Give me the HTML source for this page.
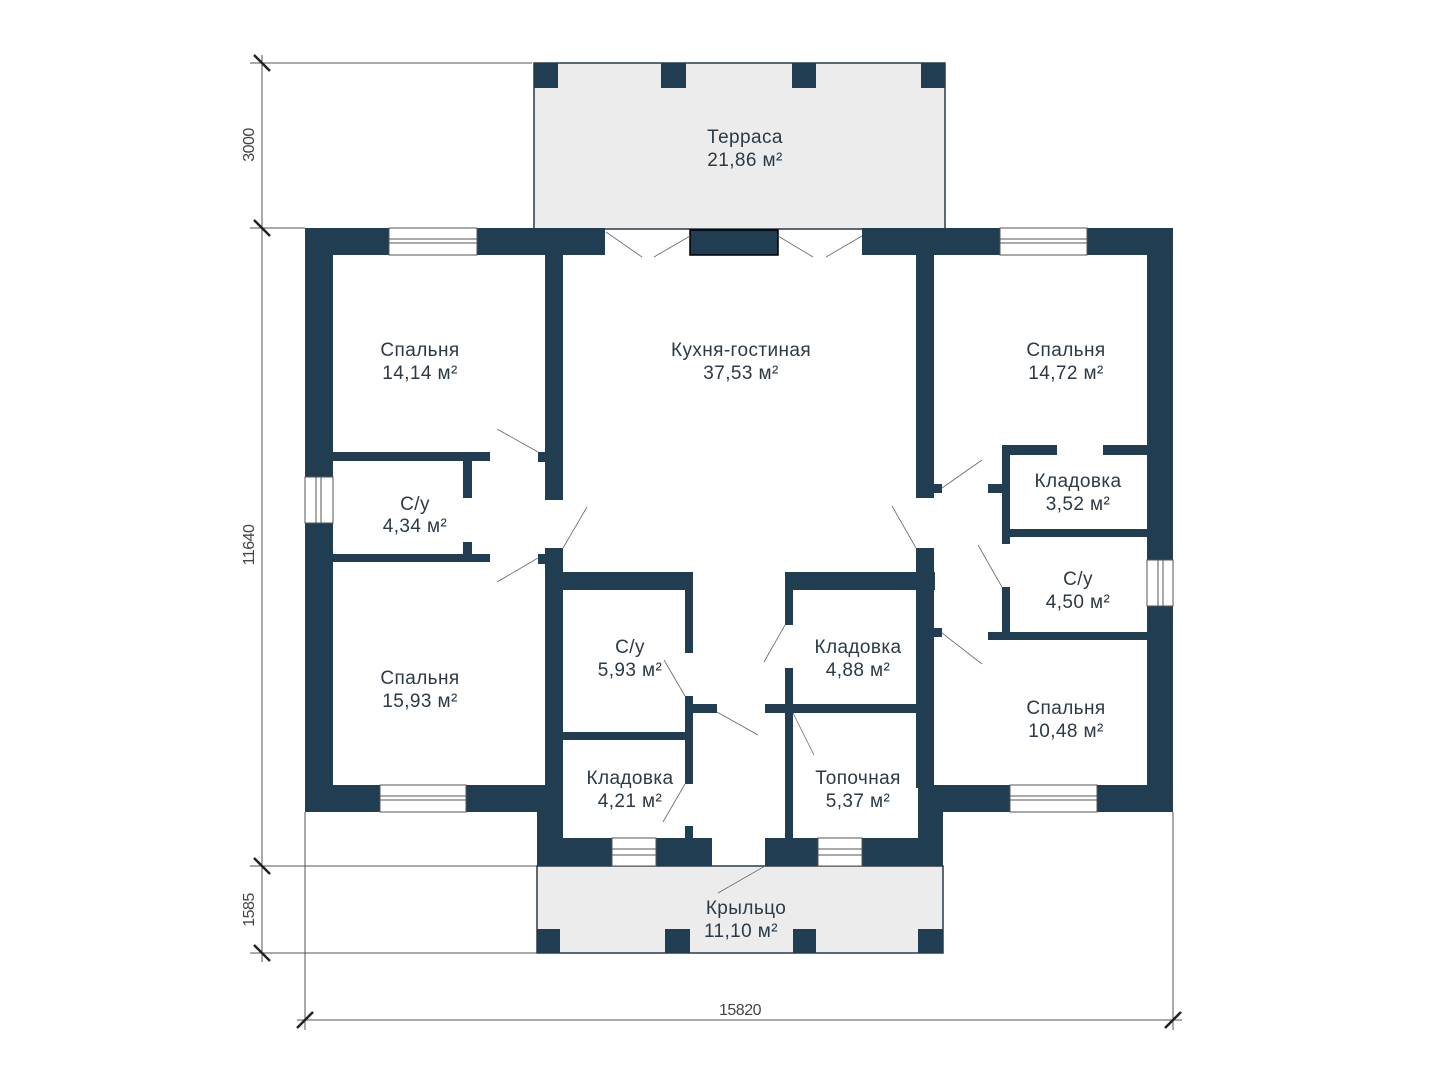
<!DOCTYPE html>
<html><head><meta charset="utf-8"><style>
html,body{margin:0;padding:0;background:#fff;}
svg{display:block}
text{font-family:"Liberation Sans","DejaVu Sans",sans-serif;fill:#2b3a46;font-size:19px;text-anchor:middle;letter-spacing:0.4px}
.d{font-size:16px;fill:#444;letter-spacing:-0.5px}
</style></head><body>
<svg width="1440" height="1080" viewBox="0 0 1440 1080" xmlns="http://www.w3.org/2000/svg">
<g stroke="#555" stroke-width="1" fill="none">
<line x1="262" y1="55" x2="262" y2="962"/>
<line x1="250" y1="63" x2="532" y2="63"/>
<line x1="250" y1="228" x2="305" y2="228"/>
<line x1="250" y1="866" x2="537" y2="866"/>
<line x1="250" y1="953" x2="537" y2="953"/>
<line x1="297" y1="1020" x2="1182" y2="1020"/>
<line x1="305" y1="812" x2="305" y2="1030"/>
<line x1="1173" y1="812" x2="1173" y2="1030"/>
</g>
<g stroke="#222" stroke-width="2.5">
<line x1="254" y1="55" x2="270" y2="71"/>
<line x1="254" y1="220" x2="270" y2="236"/>
<line x1="254" y1="858" x2="270" y2="874"/>
<line x1="254" y1="945" x2="270" y2="961"/>
<line x1="297" y1="1028" x2="313" y2="1012"/>
<line x1="1165" y1="1028" x2="1181" y2="1012"/>
</g>
<text class="d" transform="translate(254,145) rotate(-90)">3000</text>
<text class="d" transform="translate(254,545) rotate(-90)">11640</text>
<text class="d" transform="translate(254,910) rotate(-90)">1585</text>
<text class="d" x="740" y="1015">15820</text>

<rect x="534" y="63" width="411" height="166" fill="#ececec" stroke="#2b3a46" stroke-width="1.5"/>
<rect x="537" y="866" width="406" height="87" fill="#ececec" stroke="#2b3a46" stroke-width="1.5"/>

<g fill="#213d52">
<rect x="534" y="63" width="24" height="25"/><rect x="661" y="63" width="25" height="25"/>
<rect x="792" y="63" width="24" height="25"/><rect x="921" y="63" width="24" height="25"/>
<rect x="537" y="929" width="23" height="24"/><rect x="665" y="929" width="25" height="24"/>
<rect x="793" y="929" width="23" height="24"/><rect x="918" y="929" width="25" height="24"/>
<rect x="305" y="228" width="300" height="27"/>
<rect x="862" y="228" width="311" height="27"/>
<rect x="690" y="230" width="88" height="25" stroke="#000" stroke-width="1.5"/>
<rect x="305" y="228" width="28" height="584"/>
<rect x="1147" y="228" width="26" height="584"/>
<rect x="305" y="785" width="232" height="27"/>
<rect x="537" y="785" width="26" height="81"/>
<rect x="537" y="838" width="175" height="28"/>
<rect x="935" y="785" width="238" height="27"/>
<rect x="918" y="785" width="25" height="81"/>
<rect x="765" y="838" width="178" height="28"/>
<rect x="545" y="255" width="18" height="245"/>
<rect x="538" y="452" width="8" height="10"/>
<rect x="333" y="452" width="157" height="9"/>
<rect x="463" y="461" width="9" height="37"/>
<rect x="333" y="554" width="157" height="8"/>
<rect x="463" y="542" width="9" height="12"/>
<rect x="545" y="548" width="18" height="240"/>
<rect x="538" y="554" width="8" height="10"/>
<rect x="545" y="572" width="148" height="18"/>
<rect x="685" y="590" width="8" height="63"/>
<rect x="563" y="732" width="127" height="8"/>
<rect x="685" y="696" width="8" height="88"/>
<rect x="693" y="704" width="24" height="9"/>
<rect x="685" y="826" width="8" height="12"/>
<rect x="785" y="572" width="150" height="18"/>
<rect x="785" y="590" width="8" height="35"/>
<rect x="785" y="668" width="8" height="170"/>
<rect x="765" y="704" width="152" height="9"/>
<rect x="916" y="255" width="18" height="243"/>
<rect x="934" y="484" width="8" height="9"/>
<rect x="916" y="548" width="18" height="240"/>
<rect x="934" y="628" width="8" height="9"/>
<rect x="1002" y="445" width="55" height="10"/>
<rect x="1103" y="445" width="44" height="10"/>
<rect x="1002" y="445" width="8" height="99"/>
<rect x="988" y="484" width="14" height="9"/>
<rect x="1010" y="529" width="137" height="8"/>
<rect x="1002" y="587" width="8" height="45"/>
<rect x="988" y="632" width="159" height="8"/>
</g>

<g fill="#fff" stroke="#555" stroke-width="1">
<rect x="389" y="228" width="88" height="27"/>
<rect x="1000" y="228" width="87" height="27"/>
<rect x="380" y="785" width="86" height="27"/>
<rect x="1010" y="785" width="87" height="27"/>
<rect x="612" y="838" width="44" height="28"/>
<rect x="818" y="838" width="44" height="28"/>
<rect x="305" y="477" width="28" height="46"/>
<rect x="1147" y="560" width="26" height="46"/>
</g>
<g stroke="#555" stroke-width="1">
<line x1="389" y1="239" x2="477" y2="239"/><line x1="389" y1="243" x2="477" y2="243"/>
<line x1="1000" y1="239" x2="1087" y2="239"/><line x1="1000" y1="243" x2="1087" y2="243"/>
<line x1="380" y1="796" x2="466" y2="796"/><line x1="380" y1="800" x2="466" y2="800"/>
<line x1="1010" y1="796" x2="1097" y2="796"/><line x1="1010" y1="800" x2="1097" y2="800"/>
<line x1="612" y1="849" x2="656" y2="849"/><line x1="612" y1="855" x2="656" y2="855"/>
<line x1="818" y1="849" x2="862" y2="849"/><line x1="818" y1="855" x2="862" y2="855"/>
<line x1="316" y1="477" x2="316" y2="523"/><line x1="321" y1="477" x2="321" y2="523"/>
<line x1="1158" y1="560" x2="1158" y2="606"/><line x1="1163" y1="560" x2="1163" y2="606"/>
</g>

<g stroke="#666" stroke-width="0.8">
<line x1="606" y1="232" x2="642" y2="257"/><line x1="690" y1="236" x2="654" y2="257"/>
<line x1="778" y1="236" x2="813" y2="257"/><line x1="862" y1="236" x2="826" y2="257"/>
<line x1="538" y1="452" x2="497" y2="429"/>
<line x1="563" y1="548" x2="587" y2="507"/>
<line x1="538" y1="558" x2="497" y2="582"/>
<line x1="685" y1="696" x2="664" y2="660"/>
<line x1="717" y1="712" x2="758" y2="735"/>
<line x1="685" y1="784" x2="663" y2="822"/>
<line x1="785" y1="625" x2="764" y2="662"/>
<line x1="793" y1="713" x2="814" y2="755"/>
<line x1="916" y1="548" x2="892" y2="506"/>
<line x1="942" y1="488" x2="982" y2="460"/>
<line x1="1002" y1="587" x2="978" y2="545"/>
<line x1="942" y1="633" x2="982" y2="664"/>
<line x1="765" y1="866" x2="718" y2="893"/>
</g>

<text x="745" y="143">Терраса</text><text x="745" y="166">21,86 м²</text>
<text x="420" y="356">Спальня</text><text x="420" y="379">14,14 м²</text>
<text x="741" y="356">Кухня-гостиная</text><text x="741" y="379">37,53 м²</text>
<text x="1066" y="356">Спальня</text><text x="1066" y="379">14,72 м²</text>
<text x="1078" y="487">Кладовка</text><text x="1078" y="510">3,52 м²</text>
<text x="415" y="510">С/у</text><text x="415" y="532">4,34 м²</text>
<text x="1078" y="585">С/у</text><text x="1078" y="608">4,50 м²</text>
<text x="630" y="653">С/у</text><text x="630" y="676">5,93 м²</text>
<text x="858" y="653">Кладовка</text><text x="858" y="676">4,88 м²</text>
<text x="420" y="684">Спальня</text><text x="420" y="707">15,93 м²</text>
<text x="1066" y="714">Спальня</text><text x="1066" y="737">10,48 м²</text>
<text x="630" y="784">Кладовка</text><text x="630" y="807">4,21 м²</text>
<text x="858" y="784">Топочная</text><text x="858" y="807">5,37 м²</text>
<text x="746" y="914">Крыльцо</text><text x="741" y="937">11,10 м²</text>
</svg>
</body></html>
